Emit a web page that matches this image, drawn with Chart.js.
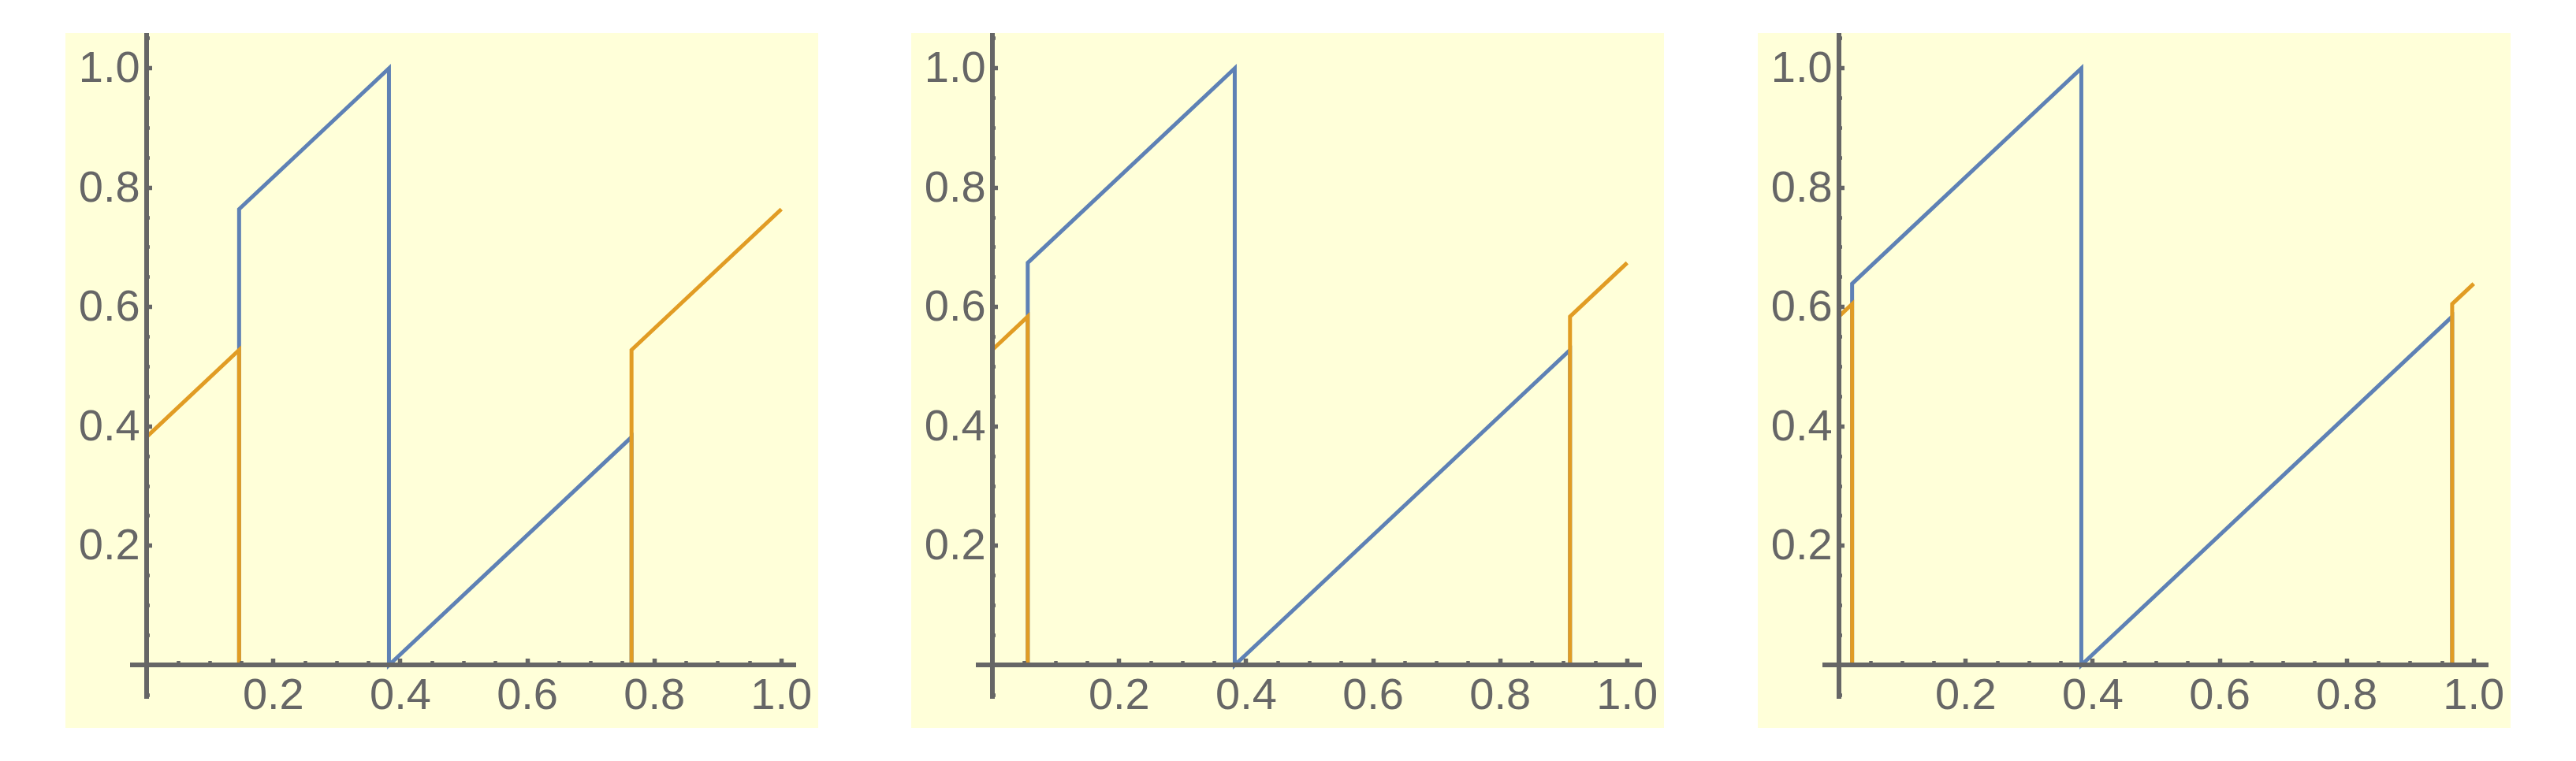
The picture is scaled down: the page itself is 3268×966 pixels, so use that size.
<!DOCTYPE html>
<html>
<head>
<meta charset="utf-8">
<title>Sawtooth panels</title>
<script src="https://cdn.jsdelivr.net/npm/chart.js@4.4.1/dist/chart.umd.min.js"></script>
<style>
  html, body { margin: 0; padding: 0; background: #ffffff; }
  body { width: 3268px; height: 966px; position: relative; overflow: hidden; }
  .panel { position: absolute; top: 42px; width: 955px; height: 882px; background: #ffffd9; }
</style>
</head>
<body>
<div class="panel" style="left:83px"><canvas id="chart1"></canvas></div>
<div class="panel" style="left:1156px"><canvas id="chart2"></canvas></div>
<div class="panel" style="left:2230px"><canvas id="chart3"></canvas></div>
<script>
(function(window) {
    'use strict';

    // values, panel by panel
    var blueX1 = [0, 0.146, 0.146, 0.382, 0.382, 0.764, 0.764, 1.0];
    var blueY1 = [0, 0, 0.764, 1.0, 0, 0.382, 0, 0];
    var orangeX1 = [0, 0.146, 0.146, 0.764, 0.764, 1.0];
    var orangeY1 = [0.382, 0.528, 0, 0, 0.528, 0.764];

    var blueX2 = [0, 0.056, 0.056, 0.382, 0.382, 0.910, 0.910, 1.0];
    var blueY2 = [0, 0, 0.674, 1.0, 0, 0.528, 0, 0];
    var orangeX2 = [0, 0.056, 0.056, 0.910, 0.910, 1.0];
    var orangeY2 = [0.528, 0.584, 0, 0, 0.584, 0.674];

    var blueX3 = [0, 0.021, 0.021, 0.382, 0.382, 0.966, 0.966, 1.0];
    var blueY3 = [0, 0, 0.639, 1.0, 0, 0.584, 0, 0];
    var orangeX3 = [0, 0.021, 0.021, 0.966, 0.966, 1.0];
    var orangeY3 = [0.584, 0.605, 0, 0, 0.605, 0.639];

    // axis ticks (same on both axes)
    var majorTicks = [0.2, 0.4, 0.6, 0.8, 1.0];
    var tickLabels = ['0.2', '0.4', '0.6', '0.8', '1.0'];
    var minorStep = 0.05;

    // plot range incl. padding around the unit square
    var xRange = [-0.022, 1.022];
    var yRange = [-0.055, 1.055];

    var blue = '#5e81b5';
    var orange = '#e19c24';
    var axisGray = '#666666';
    var labelFont = { family: "'Liberation Sans', Arial, sans-serif", size: 56 };

    function toPoints(xs, ys) {
        var pts = [];
        for (var i = 0; i < xs.length; i++) {
            pts.push({ x: xs[i], y: ys[i] });
        }
        return pts;
    }

    function zeroPadding(scale) {
        scale.paddingLeft = 0;
        scale.paddingRight = 0;
        scale.paddingTop = 0;
        scale.paddingBottom = 0;
    }

    function useMajorTicks(scale) {
        scale.ticks = majorTicks.map(function(v) { return { value: v }; });
    }

    function tickLabel(value, index) {
        return tickLabels[index];
    }

    function tickGrid(len, width) {
        return {
            display: true,
            drawOnChartArea: false,
            drawTicks: true,
            tickLength: len,
            tickWidth: width,
            tickColor: axisGray,
            z: 1
        };
    }

    function buildScales() {
        return {
            // x axis through y = 0, ticks point up
            x: {
                type: 'linear', axis: 'x', position: { y: 0 },
                min: xRange[0], max: xRange[1],
                afterBuildTicks: useMajorTicks,
                afterFit: zeroPadding,
                ticks: {
                    callback: tickLabel, font: labelFont, color: axisGray,
                    padding: 18, autoSkip: false, maxRotation: 0, minRotation: 0
                },
                grid: tickGrid(-11, 5.5),
                border: { display: true, width: 6, color: axisGray, z: 1 }
            },
            xMinor: {
                type: 'linear', axis: 'x', position: { y: 0 },
                min: xRange[0], max: xRange[1],
                afterFit: zeroPadding,
                ticks: { display: false, stepSize: minorStep, includeBounds: false, autoSkip: false },
                grid: tickGrid(-5, 4.5),
                border: { display: false }
            },
            // y axis through x = 0, ticks point right
            y: {
                type: 'linear', axis: 'y', position: { x: 0 },
                min: yRange[0], max: yRange[1],
                afterBuildTicks: useMajorTicks,
                afterFit: zeroPadding,
                ticks: { display: false, autoSkip: false },
                grid: tickGrid(-10, 5.5),
                border: { display: true, width: 6, color: axisGray, z: 1 }
            },
            yMinor: {
                type: 'linear', axis: 'y', position: { x: 0 },
                min: yRange[0], max: yRange[1],
                afterFit: zeroPadding,
                ticks: { display: false, stepSize: minorStep, includeBounds: false, autoSkip: false },
                grid: tickGrid(-4, 4.5),
                border: { display: false }
            },
            // y labels, right-aligned a little left of the y axis
            yLabels: {
                type: 'linear', axis: 'y', position: { x: -0.01 },
                min: yRange[0], max: yRange[1],
                afterBuildTicks: useMajorTicks,
                afterFit: zeroPadding,
                ticks: {
                    callback: tickLabel, font: labelFont, color: axisGray,
                    padding: 0, labelOffset: 2, autoSkip: false
                },
                grid: { display: false, drawTicks: false },
                border: { display: false }
            }
        };
    }

    function makePanel(canvasId, blueX, blueY, orangeX, orangeY) {
        var ctx = document.getElementById(canvasId).getContext('2d');
        return new Chart(ctx, {
            type: 'scatter',
            data: {
                datasets: [{
                    label: 'blue',
                    data: toPoints(blueX, blueY),
                    showLine: true,
                    borderColor: blue,
                    borderWidth: 5,
                    pointRadius: 0,
                    fill: false,
                    order: 1
                }, {
                    label: 'orange',
                    data: toPoints(orangeX, orangeY),
                    showLine: true,
                    borderColor: orange,
                    borderWidth: 5,
                    pointRadius: 0,
                    fill: false,
                    order: 0
                }]
            },
            options: {
                responsive: true,
                maintainAspectRatio: false,
                animation: false,
                events: [],
                layout: { padding: { left: 85, right: 29, top: 3, bottom: 38 } },
                scales: buildScales(),
                plugins: {
                    legend: { display: false },
                    tooltip: { enabled: false }
                }
            }
        });
    }

    makePanel('chart1', blueX1, blueY1, orangeX1, orangeY1);
    makePanel('chart2', blueX2, blueY2, orangeX2, orangeY2);
    makePanel('chart3', blueX3, blueY3, orangeX3, orangeY3);

})(window);
</script>
</body>
</html>
